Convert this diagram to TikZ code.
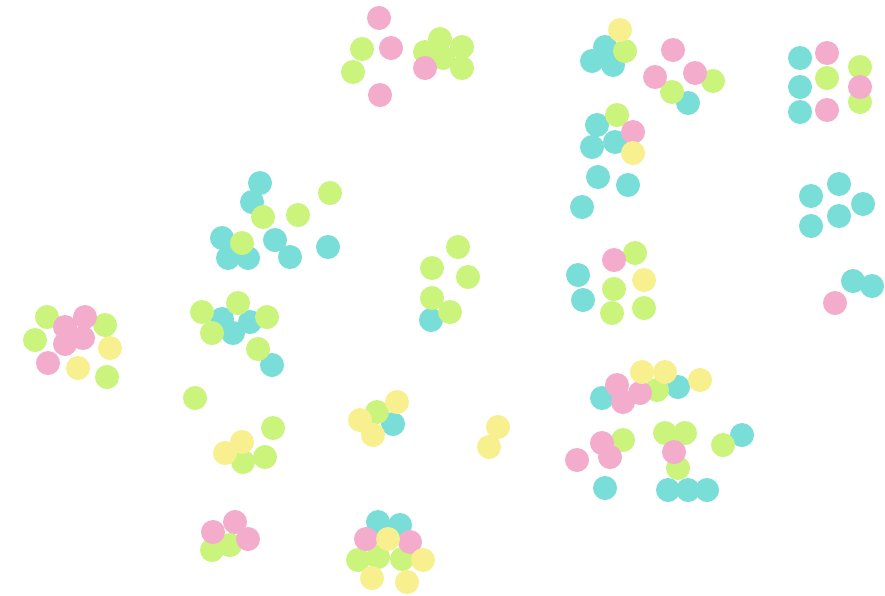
\documentclass[tikz,border=0pt]{standalone}
\usepackage{xcolor}
\usepackage{tikz}
\usetikzlibrary{positioning}
\definecolor{notepink}{RGB}{244,172,204}
\definecolor{notegreen}{RGB}{202,244,124}
\definecolor{notecyan}{RGB}{122,222,216}
\definecolor{noteyellow}{RGB}{248,240,142}
\tikzset{
  note/.style={circle, minimum size=24pt, inner sep=0pt},
  pinknote/.style={note, fill=notepink},
  greennote/.style={note, fill=notegreen},
  cyannote/.style={note, fill=notecyan},
  yellownote/.style={note, fill=noteyellow}
}

\begin{document}
\begin{tikzpicture}[x=1pt, y=-1pt]
  \useasboundingbox[fill=white] (0,0) rectangle (885,595);

  % cyan notes
  \foreach \x/\y [count=\i] in {605/47, 592/61, 613/65, 688/103, 800/58, 800/87, 800/112,
      260/183, 252/202, 222/238, 275/240, 228/258, 248/258, 290/257, 328/247,
      597/125, 615/142, 592/147, 598/177, 628/185, 582/207, 431/320, 578/275, 583/300,
      811/196, 839/184, 863/204, 839/216, 811/226, 853/281, 872/286,
      222/319, 250/322, 233/333, 272/365, 393/424, 678/387, 602/398, 605/488,
      668/490, 688/490, 707/490, 742/435, 378/522, 400/525}
    \node[cyannote] (cyan\i) at (\x,\y) {};

  % green notes
  \foreach \x/\y [count=\i] in {362/49, 353/72, 440/39, 425/52, 443/58, 462/47, 462/68,
      625/51, 713/81, 672/92, 860/67, 827/78, 860/102, 47/317, 105/325, 35/340, 107/377,
      263/217, 298/215, 330/193, 242/243, 617/115, 458/247, 432/268, 468/277, 432/298,
      450/312, 635/253, 614/289, 644/308, 612/313, 202/312, 238/303, 267/317, 212/333,
      258/349, 195/398, 273/428, 265/457, 243/462, 377/412, 657/390, 623/440, 665/433,
      685/433, 678/468, 723/445, 230/545, 212/550, 358/560, 378/557, 402/559}
    \node[greennote] (green\i) at (\x,\y) {};

  % pink notes
  \foreach \x/\y [count=\i] in {379/18, 391/48, 380/95, 425/68, 673/50, 695/73, 655/77,
      827/53, 860/87, 827/110, 65/327, 85/317, 65/344, 83/338, 48/363, 633/132,
      614/260, 835/303, 617/385, 640/393, 623/402, 602/443, 577/460, 610/457,
      674/452, 235/522, 213/532, 248/539, 366/539, 410/542}
    \node[pinknote] (pink\i) at (\x,\y) {};

  % yellow notes
  \foreach \x/\y [count=\i] in {620/30, 110/348, 78/368, 633/153, 644/280, 242/442,
      225/453, 397/402, 360/420, 373/435, 498/427, 489/447, 642/372, 665/372,
      700/380, 388/539, 423/560, 372/578, 407/582}
    \node[yellownote] (yellow\i) at (\x,\y) {};
\end{tikzpicture}
\end{document}
